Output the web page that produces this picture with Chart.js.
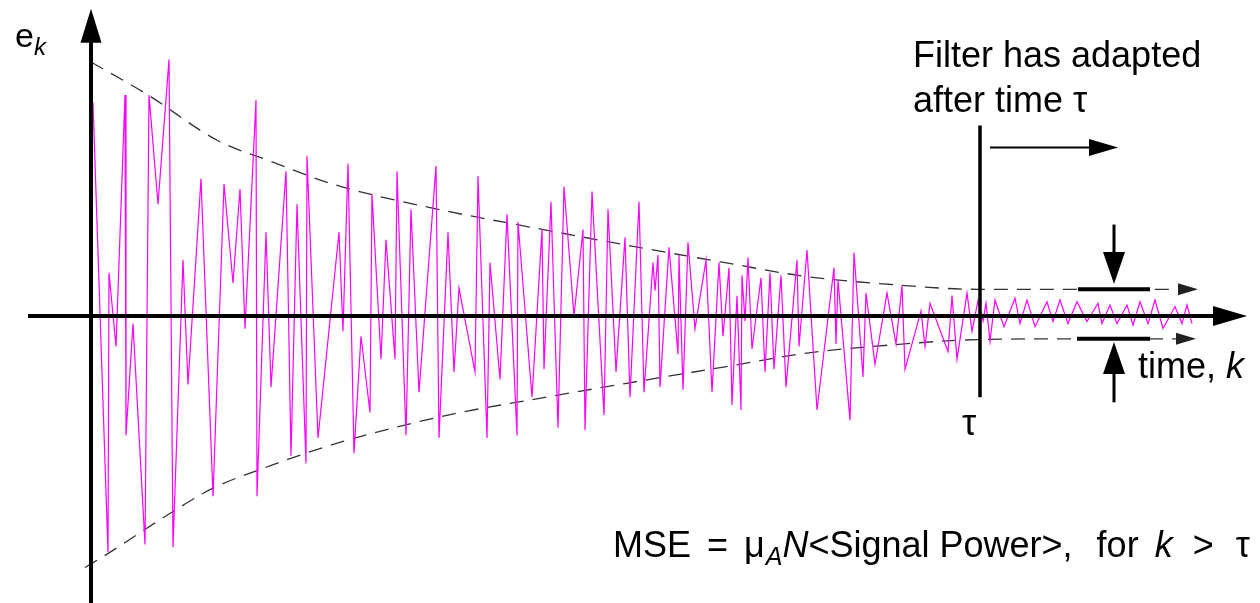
<!DOCTYPE html>
<html>
<head>
<meta charset="utf-8">
<script src="https://cdn.jsdelivr.net/npm/chart.js@4.4.0/dist/chart.umd.min.js"></script>
<style>
html, body { margin: 0; padding: 0; background: #fff; }
#wrap { width: 1260px; height: 603px; position: relative; }
</style>
</head>
<body>
<div id="wrap"><canvas id="lms-error"></canvas></div>
<script>
// error signal e_k of the adaptive filter
var kValues = [0.2, 1.7, 1.8, 2.5, 3.4, 3.5, 4.2, 5.4, 5.8, 6.7, 7.8, 8.2, 9.2, 9.7, 11.0, 12.2, 13.3, 14.2, 14.9, 15.4, 16.5, 16.6, 17.5,
  18.0, 19.5, 20.0, 20.6, 21.5, 21.6, 22.7, 24.8, 25.2, 25.7, 26.3, 27.0, 27.9, 28.1, 29.0, 29.5, 30.4, 30.6, 31.5, 32.0, 32.8, 34.5, 34.8, 35.7,
  36.3, 36.8, 38.4, 38.7, 39.6, 39.9, 40.9, 41.6, 42.6, 42.7, 44.1, 45.1, 45.3, 46.0, 46.7, 47.3, 48.3, 49.2, 49.4, 50.1, 51.3, 51.7, 52.5, 53.4,
  53.9, 54.8, 55.3, 56.2, 56.4, 56.7, 56.9, 57.8, 58.7, 58.8, 59.2, 59.7, 60.4, 61.5, 62.1, 62.8, 63.2, 63.8, 64.1, 64.6, 65.0, 65.1, 65.4, 65.7,
  66.1, 67.0, 67.4, 67.9, 68.3, 69.0, 69.5, 70.6, 70.8, 71.6,
  72.6, 74.3, 74.5, 74.7, 75.9, 76.3, 77.2, 77.5, 78.4, 79.6, 80.5, 81.1, 81.4, 83.0, 83.4, 83.9, 85.7, 86.1, 86.6, 87.6, 88.1, 88.7, 89.2,
  89.5, 89.9, 90.4,
  91.3, 92.4, 92.9, 93.6, 94.4, 95.6, 96.2, 96.9, 97.7, 98.6, 99.6, 100.7, 101.1, 101.9, 102.6, 103.6, 104.2, 104.9, 105.7, 106.4, 107.2,
  108.4, 109.1, 109.6, 110.1];
var eValues = [0.84, -0.93, 0.17, -0.12, 0.87, -0.47, -0.03, -0.90, 0.87, 0.44, 1.01, -0.91, 0.22, -0.27, 0.54, -0.71, 0.52, 0.13, 0.50, -0.05, 0.85, -0.71, 0.33,
  -0.28, 0.57, -0.55, 0.44, -0.58, 0.63, -0.48, 0.33, -0.06, 0.60, -0.54, -0.08, -0.38, 0.48, -0.17, 0.30, -0.17, 0.57, -0.47, 0.42, -0.30, 0.59, -0.48, 0.33,
  -0.22, 0.11, -0.22, 0.55, -0.48, 0.21, -0.25, 0.40, -0.47, 0.37, -0.32, 0.34, -0.21, 0.45, -0.44, 0.51, 0.00, 0.34, -0.45, 0.49, -0.39, 0.42, -0.22, 0.31,
  -0.32, 0.45, -0.30, 0.21, 0.10, 0.24, -0.28, 0.27, -0.15, 0.24, -0.29, 0.29, -0.05, 0.22, -0.30, 0.21, -0.08, 0.19, -0.35, 0.08, -0.37, 0.16, -0.02, 0.23,
  -0.13, 0.15, -0.22, 0.17, -0.21, 0.16, -0.28, 0.22, -0.12, 0.26,
  -0.37, 0.19, -0.11, 0.14, -0.41, 0.25, -0.24, 0.09, -0.19, 0.09, -0.11, 0.12, -0.21, 0.02, -0.12, 0.05, -0.14, 0.08, -0.17, 0.09, -0.06, 0.06, -0.02,
  0.05, -0.10, 0.063,
  -0.042, 0.07, -0.03, 0.063, -0.042, 0.056, -0.022, 0.063, -0.03, 0.056, -0.022, 0.05, -0.03, 0.043, -0.03, 0.043, -0.035, 0.056, -0.03, 0.063, -0.049,
  0.037, -0.03, 0.043, -0.03];

// dashed envelopes (upper and lower)
var upperK = [0, 5.7, 12.7, 17.9, 24.1, 34.7, 43.9, 53.4, 63.4, 71.6, 79.7, 88.7, 98, 108.5];
var upperE = [1.00, 0.87, 0.69, 0.61, 0.52, 0.42, 0.35, 0.28, 0.21, 0.155, 0.125, 0.105, 0.105, 0.105];
var lowerK = [-0.6, 1.1, 8.2, 12.1, 17.9, 24.7, 35.7, 44, 53.4, 63.4, 71.6, 79.7, 88.7, 98, 108.5];
var lowerE = [-0.99, -0.95, -0.77, -0.68, -0.59, -0.50, -0.39, -0.33, -0.266, -0.20, -0.146, -0.115, -0.093, -0.09, -0.09];

// time at which the filter has adapted, and the MSE band after it
var tauK = 88.9;
var mseBand = [0.105, -0.09];

var FONT = '"Liberation Sans", Arial, sans-serif';

function toPoints(xs, ys) {
  return xs.map(function (x, i) { return { x: x, y: ys[i] }; });
}

// filled arrow head with its tip at (tx,ty), pointing along (dx,dy)
function head(ctx, tx, ty, dx, dy, len, half) {
  var bx = tx - dx * len, by = ty - dy * len;
  ctx.beginPath();
  ctx.moveTo(tx, ty);
  ctx.lineTo(bx - dy * half, by + dx * half);
  ctx.lineTo(bx + dy * half, by - dx * half);
  ctx.closePath();
  ctx.fill();
}

function line(ctx, x1, y1, x2, y2, w) {
  ctx.lineWidth = w;
  ctx.beginPath();
  ctx.moveTo(x1, y1);
  ctx.lineTo(x2, y2);
  ctx.stroke();
}

// draw a run of text pieces with different fonts one after the other
// each piece: [text, font, baseline shift, extra gap before]
function runs(ctx, x, y, parts) {
  parts.forEach(function (p) {
    ctx.font = p[1];
    x += p[3] || 0;
    ctx.fillText(p[0], x, y + (p[2] || 0));
    x += ctx.measureText(p[0]).width;
  });
}

var diagram = {
  id: 'diagram',
  afterDatasetsDraw: function (chart) {
    var ctx = chart.ctx;
    var X = function (k) { return chart.scales.x.getPixelForValue(k); };
    var Y = function (e) { return chart.scales.y.getPixelForValue(e); };
    ctx.save();

    // arrow heads at the end of the dashed envelopes
    ctx.fillStyle = '#222';
    var uEnd = upperK.length - 1, lEnd = lowerK.length - 1;
    head(ctx, X(upperK[uEnd]) + 22, Y(upperE[uEnd]), 1, 0, 20, 6);
    head(ctx, X(lowerK[lEnd]) + 20, Y(lowerE[lEnd]), 1, 0, 20, 6);

    ctx.fillStyle = '#000';
    ctx.strokeStyle = '#000';

    // main axes
    var x0 = X(0), y0 = Y(0);
    line(ctx, X(-6.3), y0, X(115.6) - 30, y0, 4);
    head(ctx, X(115.6), y0, 1, 0, 34, 10);
    line(ctx, x0, Y(-1.2), x0, Y(1.21) + 30, 4);
    head(ctx, x0, Y(1.21), 0, -1, 34, 10.5);

    // tau marker and "adapted" arrow
    var xt = X(tauK);
    line(ctx, xt, Y(0.75), xt, Y(-0.32), 3.5);
    line(ctx, X(tauK + 1), Y(0.663), X(102.7) - 26, Y(0.663), 2);
    head(ctx, X(102.7), Y(0.663), 1, 0, 29, 8.5);

    // MSE band bars and arrows
    line(ctx, X(98.7), Y(mseBand[0]), X(105.9), Y(mseBand[0]), 4);
    line(ctx, X(98.6), Y(mseBand[1]), X(105.9), Y(mseBand[1]), 4);
    var xa = X(102.3);
    line(ctx, xa, Y(0.36), xa, Y(0.126) - 28, 3);
    head(ctx, xa, Y(0.126), 0, 1, 32, 11);
    line(ctx, xa, Y(-0.34), xa, Y(-0.102) + 28, 3);
    head(ctx, xa, Y(-0.102), 0, -1, 32, 11);

    // labels
    ctx.textBaseline = 'alphabetic';
    ctx.textAlign = 'left';
    var n = '36px ' + FONT, it = 'italic 36px ' + FONT;
    runs(ctx, 15, 47, [['e', '34px ' + FONT], ['k', 'italic 24px ' + FONT, 8]]);
    ctx.font = n;
    ctx.fillText('Filter has adapted', 913, 67);
    ctx.fillText('after time \u03c4', 913, 112);
    ctx.textAlign = 'center';
    ctx.fillText('\u03c4', xt - 11, 435);
    ctx.textAlign = 'left';
    runs(ctx, 1138, 378, [['time, ', n], ['k', it]]);
    runs(ctx, 613, 557, [['MSE', n], ['=', n, 0, 16], ['\u03bc', n, 0, 16], ['A', 'italic 25px ' + FONT, 8, 1], ['N', it],
      ['<Signal Power>,', n], ['for', n, 0, 24], ['k', it, 0, 16], ['>', n, 0, 20], ['\u03c4', n, 0, 22]]);

    ctx.restore();
  }
};

var ctx = document.getElementById('lms-error');
var myChart = new Chart(ctx, {
  type: 'line',
  data: {
    datasets: [{
      label: 'e_k',
      data: toPoints(kValues, eValues),
      borderColor: '#ff00ff',
      borderWidth: 1.2,
      pointRadius: 0,
      tension: 0
    }, {
      label: 'upper envelope',
      data: toPoints(upperK, upperE),
      borderColor: '#333',
      borderWidth: 1.3,
      borderDash: [14, 9],
      pointRadius: 0,
      cubicInterpolationMode: 'monotone'
    }, {
      label: 'lower envelope',
      data: toPoints(lowerK, lowerE),
      borderColor: '#333',
      borderWidth: 1.3,
      borderDash: [14, 9],
      pointRadius: 0,
      cubicInterpolationMode: 'monotone'
    }]
  },
  options: {
    responsive: true,
    maintainAspectRatio: false,
    animation: false,
    layout: { padding: 0 },
    plugins: { legend: { display: false }, tooltip: { enabled: false } },
    scales: {
      x: { type: 'linear', display: false, min: -9.1, max: 116.9 },
      y: { type: 'linear', display: false, min: -1.130, max: 1.244 }
    }
  },
  plugins: [diagram]
});
</script>
</body>
</html>
